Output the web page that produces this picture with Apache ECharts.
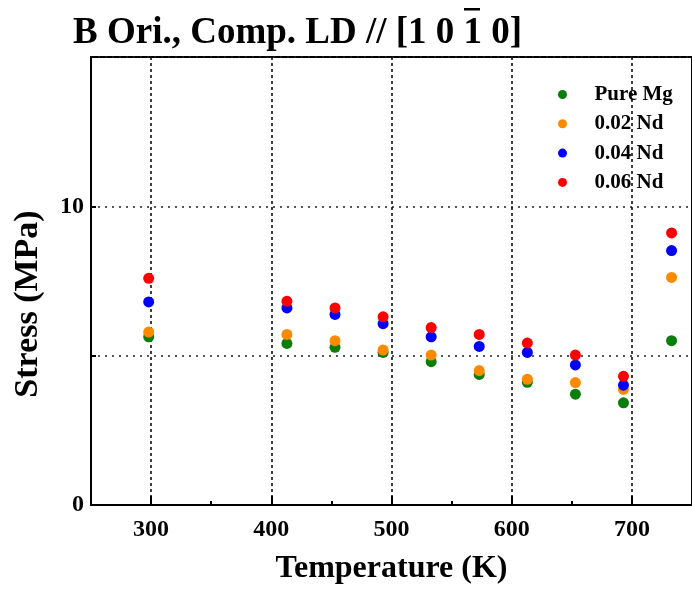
<!DOCTYPE html>
<html>
<head>
<meta charset="utf-8">
<script src="https://cdn.jsdelivr.net/npm/echarts@6/dist/echarts.min.js"></script>
<style>html,body{margin:0;padding:0;background:#fff}#c{width:692px;height:590px}</style>
</head>
<body>
<div id="c"></div>
<script>
const temperatures = [298, 413, 453, 493, 533, 573, 613, 653, 693, 733];
const seriesNames = ['Pure Mg', '0.02 Nd', '0.04 Nd', '0.06 Nd'];
const pureMg = [5.63, 5.41, 5.28, 5.11, 4.80, 4.37, 4.11, 3.71, 3.42, 5.50];
const nd002 = [5.79, 5.71, 5.50, 5.19, 5.02, 4.50, 4.21, 4.10, 3.87, 7.62];
const nd004 = [6.80, 6.60, 6.38, 6.07, 5.63, 5.31, 5.11, 4.69, 4.01, 8.52];
const nd006 = [7.59, 6.82, 6.60, 6.30, 5.94, 5.71, 5.42, 5.02, 4.31, 9.11];
const seriesColors = ['#0b7d0b', '#ff8a00', '#0000ff', '#ff0000'];
const xTickLabels = [300, 400, 500, 600, 700];
const xMinorTicks = [350, 450, 550, 650];
const yTickLabels = [0, 10];

const FONT = '"Liberation Serif", "Times New Roman", serif';
const allValues = [pureMg, nd002, nd004, nd006];

const chart = echarts.init(document.getElementById('c'), null, {renderer: 'canvas'});
const series = seriesNames.map((name, i) => ({
  name: name,
  type: 'scatter',
  symbol: 'circle',
  symbolSize: 11,
  itemStyle: {color: seriesColors[i], opacity: 1},
  data: temperatures.map((t, k) => [t, allValues[i][k]]),
  z: 3 + i
}));

chart.setOption({
  animation: false,
  title: {
    text: 'B Ori., Comp. LD // [1 0 1 0]',
    left: 68, top: 10,
    textStyle: {fontFamily: FONT, fontWeight: 'bold', fontSize: 37, color: '#000'}
  },
  graphic: [{
    type: 'rect', left: 464, top: 8,
    shape: {width: 16, height: 2.5},
    style: {fill: '#000'}
  }],
  legend: {
    orient: 'vertical',
    left: 553, top: 79,
    itemWidth: 54, itemHeight: 9, itemGap: 8.3,
    icon: 'circle',
    data: seriesNames,
    textStyle: {fontFamily: FONT, fontWeight: 'bold', fontSize: 21, color: '#000'}
  },
  grid: {
    left: 91, top: 57, right: -5, bottom: 79,
    show: true, borderColor: '#000', borderWidth: 2, backgroundColor: 'transparent'
  },
  xAxis: [{
    type: 'value', min: 250, max: 750,
    name: 'Temperature (K)', nameLocation: 'middle', nameGap: 48,
    nameTextStyle: {fontFamily: FONT, fontWeight: 'bold', fontSize: 32, color: '#000'},
    axisLine: {show: true, lineStyle: {color: '#000', width: 2}},
    axisTick: {show: true, inside: true, length: 9, customValues: xTickLabels, lineStyle: {color: '#000', width: 2}},
    axisLabel: {
      margin: 13, customValues: xTickLabels,
      fontFamily: FONT, fontWeight: 'bold', fontSize: 24, color: '#000'
    },
    splitLine: {show: true, lineStyle: {color: '#111', width: 1.6, type: [3, 3]}}
  }, {
    type: 'value', min: 250, max: 750, position: 'bottom',
    axisLine: {show: false},
    axisTick: {show: true, inside: true, length: 4, customValues: xMinorTicks, lineStyle: {color: '#000', width: 2}},
    axisLabel: {show: false},
    splitLine: {show: false}
  }],
  yAxis: {
    type: 'value', min: 0, max: 15, interval: 5,
    name: 'Stress (MPa)', nameLocation: 'middle', nameGap: 46,
    nameTextStyle: {fontFamily: FONT, fontWeight: 'bold', fontSize: 34, color: '#000', padding: [0, 46, 0, 0]},
    axisLine: {show: true, lineStyle: {color: '#000', width: 2}},
    axisTick: {show: true, inside: true, length: 5, lineStyle: {color: '#000', width: 2}},
    axisLabel: {
      margin: 7,
      fontFamily: FONT, fontWeight: 'bold', fontSize: 24, color: '#000',
      formatter: v => (yTickLabels.indexOf(v) >= 0 ? String(v) : '')
    },
    splitLine: {show: true, lineStyle: {color: '#222', width: 1.5, type: [2, 5]}}
  },
  series: series
});
</script>
</body>
</html>
